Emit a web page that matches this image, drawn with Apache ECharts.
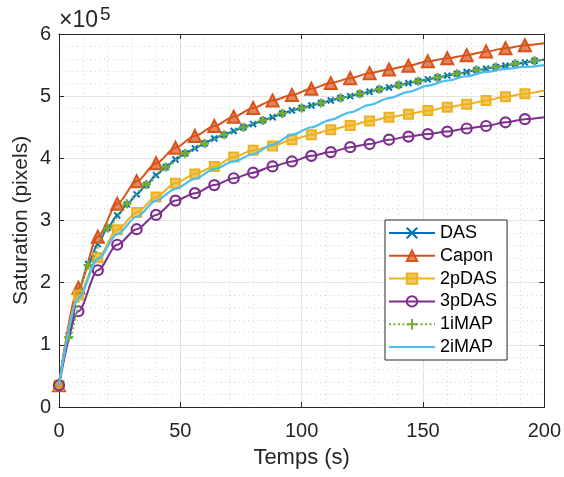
<!DOCTYPE html>
<html>
<head>
<meta charset="utf-8">
<script src="https://cdn.jsdelivr.net/npm/echarts@6/dist/echarts.min.js"></script>
<style>html,body{margin:0;padding:0;background:#fff}#c{width:564px;height:477px}</style>
</head>
<body>
<div id="c"></div>
<script>
// Values in units of 1e5 pixels (axis shows "x10^5")
const time8 = [0,8,16,24,32,40,48,56,64,72,80,88,96,104,112,120,128,136,144,152,160,168,176,184,192,200];
const time4 = [0,4,8,12,16,20,24,28,32,36,40,44,48,52,56,60,64,68,72,76,80,84,88,92,96,100,104,108,112,116,120,124,128,132,136,140,144,148,152,156,160,164,168,172,176,180,184,188,192,196,200];
const timeOdd = [0,4,12,20,28,36,44,52,60,68,76,84,92,100,108,116,124,132,140,148,156,164,172,180,188,196,200];

const das = [0.35,1.15,1.85,2.30,2.62,2.88,3.08,3.26,3.42,3.57,3.73,3.86,3.98,4.08,4.16,4.24,4.32,4.38,4.44,4.50,4.55,4.61,4.66,4.72,4.77,4.81,4.85,4.89,4.93,4.97,5.00,5.04,5.07,5.11,5.14,5.18,5.21,5.24,5.27,5.30,5.33,5.36,5.39,5.42,5.44,5.47,5.49,5.52,5.54,5.57,5.59];
const capon = [0.35,1.92,2.74,3.27,3.63,3.92,4.17,4.36,4.52,4.67,4.81,4.93,5.02,5.12,5.21,5.29,5.37,5.43,5.49,5.56,5.61,5.66,5.72,5.77,5.82,5.85];
const pDAS2 = [0.35,1.80,2.40,2.85,3.13,3.38,3.60,3.75,3.87,4.02,4.13,4.20,4.30,4.38,4.46,4.53,4.60,4.66,4.71,4.77,4.82,4.87,4.93,4.99,5.04,5.09];
const pDAS3 = [0.35,1.54,2.20,2.61,2.86,3.09,3.32,3.44,3.57,3.68,3.77,3.87,3.95,4.04,4.10,4.18,4.23,4.30,4.35,4.39,4.43,4.48,4.52,4.58,4.63,4.66];
const iMAP1 = [0.35,1.12,2.28,2.88,3.27,3.58,3.86,4.08,4.24,4.38,4.50,4.61,4.72,4.81,4.89,4.97,5.04,5.11,5.18,5.24,5.30,5.36,5.42,5.47,5.52,5.57,5.59];
const iMAP2 = [0.35,1.75,2.38,2.78,3.06,3.32,3.51,3.67,3.83,3.95,4.07,4.22,4.38,4.50,4.62,4.74,4.86,4.97,5.07,5.17,5.25,5.32,5.39,5.44,5.47,5.50];

const xTicks = [0,50,100,150,200];
const yTicks = [0,1,2,3,4,5,6];

const C = {das:'#0072BD', capon:'#D95319', p2:'#EDB120', p3:'#7E2F8E', i1:'#77AC30', i2:'#4DBEEE'};
const FONT = 'Liberation Sans, Arial, Helvetica, sans-serif';
const AX = '#262626';

function pts(t, v, markerFn) {
  return t.map((x, i) => {
    const item = {value: [x, v[i]]};
    if (markerFn && !markerFn(x, i)) item.symbol = 'none';
    return item;
  });
}
const not200 = (x) => x !== 200;

const chart = echarts.init(document.getElementById('c'), null, {renderer: 'canvas'});
const axisCommonX = {type:'value', min:xTicks[0], max:xTicks[xTicks.length-1], interval:50};
const axisCommonY = {type:'value', min:yTicks[0], max:yTicks[yTicks.length-1], interval:1};
const minorGrid = {show: true, lineStyle: {color: '#d4d4d4', width: 1, type: [1, 3.5]}};

chart.setOption({
  animation: false,
  backgroundColor: '#fff',
  grid: {left: 59, right: 17, top: 34, bottom: 70, containLabel: false},
  xAxis: [
    Object.assign({}, axisCommonX, {
      position: 'bottom',
      name: 'Temps (s)', nameLocation: 'middle', nameGap: 40, nameMoveOverlap: false,
      nameTextStyle: {fontSize: 22, color: AX, fontFamily: FONT},
      axisLine: {show: true, onZero: false, lineStyle: {color: AX, width: 1}},
      axisTick: {show: true, inside: true, length: 5, lineStyle: {color: AX}},
      axisLabel: {fontSize: 20, color: AX, fontFamily: FONT, margin: 14},
      splitLine: {show: true, lineStyle: {color: '#e3e3e3', width: 1}},
      minorTick: {show: false, splitNumber: 5},
      minorSplitLine: minorGrid
    }),
    Object.assign({}, axisCommonX, {
      position: 'top',
      axisLine: {show: true, onZero: false, lineStyle: {color: AX, width: 1}},
      axisTick: {show: true, inside: true, length: 5, lineStyle: {color: AX}},
      axisLabel: {show: false}, splitLine: {show: false}
    })
  ],
  yAxis: [
    Object.assign({}, axisCommonY, {
      position: 'left',
      name: 'Saturation (pixels)', nameLocation: 'middle', nameGap: 27, nameRotate: 90, nameMoveOverlap: false,
      nameTextStyle: {fontSize: 21, color: AX, fontFamily: FONT},
      axisLine: {show: true, onZero: false, lineStyle: {color: AX, width: 1}},
      axisTick: {show: true, inside: true, length: 5, lineStyle: {color: AX}},
      axisLabel: {fontSize: 20, color: AX, fontFamily: FONT, margin: 8},
      splitLine: {show: true, lineStyle: {color: '#e3e3e3', width: 1}},
      minorTick: {show: false, splitNumber: 5},
      minorSplitLine: minorGrid
    }),
    Object.assign({}, axisCommonY, {
      position: 'right',
      axisLine: {show: true, onZero: false, lineStyle: {color: AX, width: 1}},
      axisTick: {show: true, inside: true, length: 5, lineStyle: {color: AX}},
      axisLabel: {show: false}, splitLine: {show: false}
    })
  ],
  legend: {
    orient: 'vertical', left: 385, top: 220,
    itemWidth: 46, itemHeight: 13, itemGap: 4.8,
    padding: [4, 10, 4, 3],
    borderColor: AX, borderWidth: 1, backgroundColor: '#fff', borderRadius: 0,
    textStyle: {fontSize: 18, color: '#000', fontFamily: FONT},
    data: ['DAS','Capon','2pDAS','3pDAS','1iMAP',
      {name:'2iMAP', itemStyle:{color:'rgba(0,0,0,0)', borderColor:'rgba(0,0,0,0)', borderWidth:0, opacity:0}}]
  },
  graphic: [{
    type: 'text', left: 59, top: 5,
    style: {
      text: '×10{s|5}', fill: AX, fontSize: 23, fontFamily: FONT,
      rich: {s: {fontSize: 19, verticalAlign: 'top', padding: [0,0,13,2], fill: AX, fontFamily: FONT}}
    }
  }],
  series: [
    {name:'DAS', type:'line', smooth:0.3, smoothMonotone:'x', data: pts(time4, das, not200),
     symbol:'path://M0,0L10,10M10,0L0,10', symbolSize:6,
     lineStyle:{color:C.das, width:2}, itemStyle:{color:'rgba(0,0,0,0)', borderColor:C.das, borderWidth:2}, z:2},
    {name:'Capon', type:'line', smooth:0.3, smoothMonotone:'x', data: pts(time8, capon, not200),
     symbol:'triangle', symbolSize:12,
     lineStyle:{color:C.capon, width:2}, itemStyle:{color:'rgba(217,83,25,0.7)', borderColor:C.capon, borderWidth:2}, z:3},
    {name:'2pDAS', type:'line', smooth:0.3, smoothMonotone:'x', data: pts(time8, pDAS2, not200),
     symbol:'rect', symbolSize:9,
     lineStyle:{color:C.p2, width:2}, itemStyle:{color:'rgba(237,177,32,0.7)', borderColor:C.p2, borderWidth:2}, z:3},
    {name:'3pDAS', type:'line', smooth:0.3, smoothMonotone:'x', data: pts(time8, pDAS3, not200),
     symbol:'circle', symbolSize:10,
     lineStyle:{color:C.p3, width:2}, itemStyle:{color:'rgba(0,0,0,0)', borderColor:C.p3, borderWidth:2.2}, z:3},
    {name:'1iMAP', type:'line', smooth:0.3, smoothMonotone:'x', data: pts(timeOdd, iMAP1, (x)=>x!==0 && x!==200),
     symbol:'path://M5,0L5,10M0,5L10,5', symbolSize:9,
     lineStyle:{color:C.i1, width:2.2, type:[2,2.5]}, itemStyle:{color:'rgba(0,0,0,0)', borderColor:C.i1, borderWidth:2.5}, z:4},
    {name:'2iMAP', type:'line', smooth:0.3, smoothMonotone:'x',
     data: time8.map((t, i) => [t, iMAP2[i]]),
     symbol:'none',
     lineStyle:{color:C.i2, width:2.2}, itemStyle:{color:C.i2}, z:5}
  ]
});
</script>
</body>
</html>
